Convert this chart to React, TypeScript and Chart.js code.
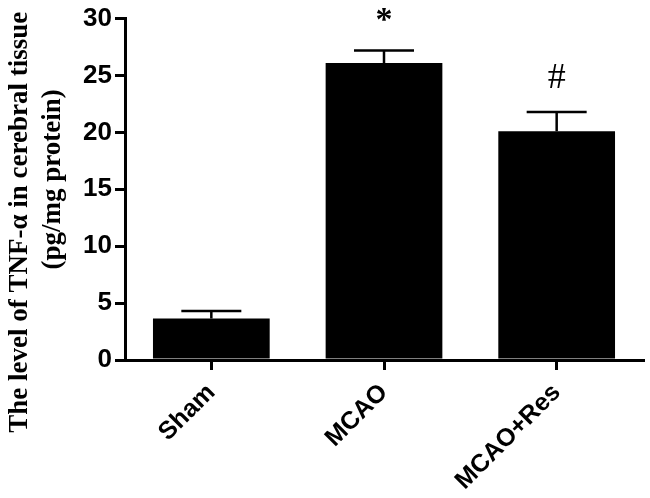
import React, { useEffect, useRef } from "react";
import { Chart, registerables } from "chart.js";

Chart.register(...registerables);

const categories = ["Sham", "MCAO", "MCAO+Res"];
const means = [3.65, 26.1, 20.1];
const errors = [0.65, 1.1, 1.7];
const marks = ["", "*", "#"];
const yTicks = [0, 5, 10, 15, 20, 25, 30];
const yTitleLines = ["The level of TNF-\u03b1 in cerebral tissue", "(pg/mg protein)"];

const SANS = "'Liberation Sans', Arial, sans-serif";
const SERIF = "'Liberation Serif', 'Times New Roman', serif";

const overlay = {
  id: "overlay",
  afterDatasetsDraw(chart: any) {
    const ctx = chart.ctx;
    const y = chart.scales.y;
    const meta = chart.getDatasetMeta(0);
    ctx.save();
    ctx.strokeStyle = "#000";
    ctx.fillStyle = "#000";
    ctx.lineWidth = 2.5;
    meta.data.forEach((bar: any, i: number) => {
      const top = y.getPixelForValue(means[i] + errors[i]);
      const base = y.getPixelForValue(means[i]);
      ctx.beginPath();
      ctx.moveTo(bar.x, base);
      ctx.lineTo(bar.x, top);
      ctx.moveTo(bar.x - 30, top);
      ctx.lineTo(bar.x + 30, top);
      ctx.stroke();
      if (marks[i]) {
        ctx.textAlign = "center";
        ctx.textBaseline = "middle";
        ctx.font = marks[i] === "*" ? `bold 34px ${SERIF}` : `36px ${SERIF}`;
        ctx.fillText(marks[i], bar.x, top - 33 + (marks[i] === "*" ? 4 : 0));
      }
    });
    const ca = chart.chartArea;
    const cy = (ca.top + ca.bottom) / 2;
    ctx.font = `bold 27px ${SERIF}`;
    ctx.textAlign = "center";
    ctx.textBaseline = "alphabetic";
    ctx.save();
    ctx.translate(27, cy + 33);
    ctx.rotate(-Math.PI / 2);
    ctx.fillText(yTitleLines[0], 0, 0);
    ctx.restore();
    ctx.save();
    ctx.translate(60, cy - 10);
    ctx.rotate(-Math.PI / 2);
    ctx.fillText(yTitleLines[1], 0, 0);
    ctx.restore();
    ctx.restore();
  },
};

export default function App() {
  const ref = useRef<HTMLCanvasElement>(null);
  useEffect(() => {
    if (!ref.current) return;
    const chart = new Chart(ref.current, {
      type: "bar",
      data: {
        labels: categories,
        datasets: [
          {
            data: means,
            backgroundColor: "#000",
            borderWidth: 0,
            barPercentage: 0.676,
            categoryPercentage: 1,
          },
        ],
      },
      options: {
        responsive: false,
        animation: false,
        layout: { padding: { top: 15, right: 7, left: 0, bottom: 0 } },
        plugins: { legend: { display: false }, tooltip: { enabled: false } },
        scales: {
          x: {
            offset: true,
            grid: {
              display: true,
              drawOnChartArea: false,
              drawTicks: true,
              tickLength: 10,
              offset: false,
              color: "#000",
              lineWidth: 3,
            },
            border: { display: true, color: "#000", width: 3 },
            ticks: {
              color: "#000",
              font: { family: SANS, size: 25, weight: "bold" },
              minRotation: 45,
              maxRotation: 45,
              padding: 8,
            },
            afterFit: (s: any) => {
              s.height = 138;
            },
          },
          y: {
            min: 0,
            max: 30,
            afterBuildTicks: (s: any) => {
              s.ticks = yTicks.map((v) => ({ value: v }));
            },
            grid: {
              display: true,
              drawOnChartArea: false,
              drawTicks: true,
              tickLength: 10,
              color: "#000",
              lineWidth: 3,
            },
            border: { display: true, color: "#000", width: 3 },
            ticks: {
              color: "#000",
              font: { family: SANS, size: 26, weight: "bold" },
              padding: 3,
            },
            afterFit: (s: any) => {
              s.width = 125;
            },
          },
        },
      },
      plugins: [overlay],
    } as any);
    return () => chart.destroy();
  }, []);
  return (
    <div style={{ position: "absolute", left: 0, top: 0, width: 650, height: 498, background: "#fff" }}>
      <canvas ref={ref} width={650} height={498} />
    </div>
  );
}
